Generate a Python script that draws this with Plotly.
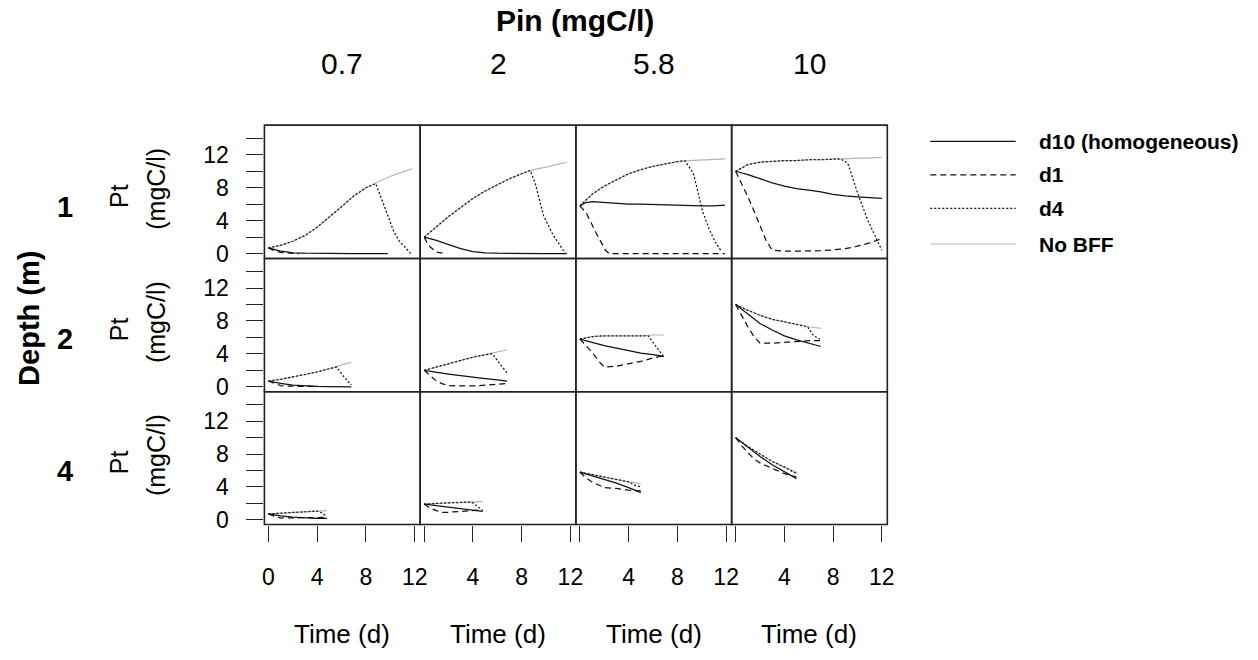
import plotly.graph_objects as go

# ---------------- data ----------------
# panel facets
pin_labels = ["0.7", "2", "5.8", "10"]
depth_labels = ["1", "2", "4"]
series_names = ["d10 (homogeneous)", "d1", "d4", "No BFF"]
x_tick_vals = [0, 4, 8, 12]
y_tick_vals = [0, 2, 4, 6, 8, 10, 12, 14]
y_tick_text = ["0", "", "4", "", "8", "", "12", ""]

# ---- Depth 1 m ----
t_z1_p07_nobff = [0, 1, 2, 3, 4, 5, 6, 7, 8, 9, 10, 11, 11.8]
P_z1_p07_nobff = [0.7, 1.0, 1.5, 2.2, 3.2, 4.4, 5.7, 7.0, 8.0, 8.7, 9.4, 9.9, 10.3]
t_z1_p07_d4 = [0, 1, 2, 3, 4, 5, 6, 7, 8, 8.8, 9.1, 9.5, 9.9, 10.3, 10.8, 11.3, 11.7]
P_z1_p07_d4 = [0.7, 1.0, 1.5, 2.2, 3.2, 4.4, 5.7, 7.0, 8.0, 8.5, 7.4, 5.8, 4.2, 2.6, 1.4, 0.6, 0.0]
t_z1_p07_d10 = [0, 0.5, 1, 1.5, 2, 3, 4, 5, 6, 7, 8, 9, 9.8]
P_z1_p07_d10 = [0.7, 0.5, 0.3, 0.2, 0.1, 0.05, 0.02, 0.01, 0, 0, 0, 0, 0]
t_z1_p07_d1 = [0, 0.5, 1, 1.5, 2, 2.5]
P_z1_p07_d1 = [0.7, 0.35, 0.15, 0.05, 0.02, 0.0]

t_z1_p2_nobff = [0, 1, 2, 3, 4, 5, 6, 7, 8, 9, 10, 11, 11.7]
P_z1_p2_nobff = [2.0, 3.3, 4.5, 5.6, 6.7, 7.6, 8.4, 9.1, 9.7, 10.2, 10.5, 10.8, 11.1]
t_z1_p2_d4 = [0, 1, 2, 3, 4, 5, 6, 7, 8, 8.7, 9.1, 9.8, 10.6, 11.6]
P_z1_p2_d4 = [2.0, 3.3, 4.5, 5.6, 6.7, 7.6, 8.4, 9.1, 9.7, 10.1, 8.6, 4.6, 2.2, 0.0]
t_z1_p2_d10 = [0, 0.5, 1, 2, 3, 4, 5, 6, 7, 8, 9, 10, 11, 11.7]
P_z1_p2_d10 = [2.0, 1.8, 1.6, 1.1, 0.6, 0.25, 0.1, 0.05, 0.02, 0, 0, 0, 0, 0]
t_z1_p2_d1 = [0, 0.25, 0.5, 1, 1.5]
P_z1_p2_d1 = [2.0, 1.3, 0.8, 0.2, 0.05]

t_z1_p58_nobff = [0, 1, 2, 3, 4, 5, 6, 7, 8, 9, 10, 11, 11.9]
P_z1_p58_nobff = [5.8, 7.2, 8.2, 9.0, 9.7, 10.2, 10.6, 10.9, 11.2, 11.3, 11.4, 11.5, 11.5]
t_z1_p58_d4 = [0, 1, 2, 3, 4, 5, 6, 7, 8, 8.6, 9.3, 9.7, 10.1, 10.6, 11.1, 11.6]
P_z1_p58_d4 = [5.8, 7.2, 8.2, 9.0, 9.7, 10.2, 10.6, 10.9, 11.2, 11.3, 9.8, 7.4, 5.0, 3.0, 1.4, 0.3]
t_z1_p58_d10 = [0, 0.5, 1, 2, 3, 4, 5, 6, 7, 8, 9, 10, 11, 11.9]
P_z1_p58_d10 = [5.8, 6.2, 6.3, 6.2, 6.1, 6.0, 6.0, 5.95, 5.9, 5.9, 5.85, 5.8, 5.8, 5.9]
t_z1_p58_d1 = [0, 0.5, 1.3, 2.1, 2.4, 4, 6, 8, 10, 11.9]
P_z1_p58_d1 = [5.8, 5.0, 2.6, 0.4, 0.0, 0, 0, 0, 0, 0]

t_z1_p10_nobff = [0, 1, 2, 3, 4, 5, 6, 7, 8, 9, 10, 11, 12]
P_z1_p10_nobff = [10.0, 10.8, 11.1, 11.2, 11.3, 11.3, 11.4, 11.4, 11.5, 11.5, 11.6, 11.6, 11.7]
t_z1_p10_d4 = [0, 1, 2, 3, 4, 5, 6, 7, 8, 8.6, 9.2, 10.0, 10.8, 12.0]
P_z1_p10_d4 = [10.0, 10.8, 11.1, 11.2, 11.3, 11.3, 11.4, 11.4, 11.5, 11.5, 11.0, 7.4, 4.2, 0.4]
t_z1_p10_d10 = [0, 1, 2, 3, 4, 5, 6, 7, 8, 9, 10, 11, 12]
P_z1_p10_d10 = [10.0, 9.6, 9.1, 8.6, 8.2, 7.9, 7.7, 7.5, 7.2, 7.0, 6.9, 6.8, 6.7]
t_z1_p10_d1 = [0, 0.5, 1, 1.5, 2, 2.5, 3, 4, 5, 6, 7, 8, 9, 10, 11, 12]
P_z1_p10_d1 = [10.0, 8.5, 6.9, 5.2, 3.4, 1.6, 0.4, 0.3, 0.3, 0.3, 0.35, 0.45, 0.6, 0.9, 1.3, 1.8]

# ---- Depth 2 m ----
t_z2_p07_nobff = [0, 1, 2, 3, 4, 5, 6, 6.8]
P_z2_p07_nobff = [0.7, 0.9, 1.2, 1.5, 1.8, 2.2, 2.6, 3.0]
t_z2_p07_d4 = [0, 1, 2, 3, 4, 5, 5.6, 6.2, 6.8]
P_z2_p07_d4 = [0.7, 0.9, 1.2, 1.5, 1.8, 2.2, 2.4, 1.2, 0.2]
t_z2_p07_d10 = [0, 1, 2, 3, 4, 5, 6, 6.8]
P_z2_p07_d10 = [0.7, 0.4, 0.2, 0.1, 0.05, 0.02, 0.01, 0.0]
t_z2_p07_d1 = [0, 0.5, 1, 1.5, 2, 3, 4.1]
P_z2_p07_d1 = [0.7, 0.4, 0.15, 0.08, 0.05, 0.05, 0.05]

t_z2_p2_nobff = [0, 1, 2, 3, 4, 5, 6, 6.8]
P_z2_p2_nobff = [2.0, 2.4, 2.8, 3.2, 3.6, 3.9, 4.2, 4.5]
t_z2_p2_d4 = [0, 1, 2, 3, 4, 5, 5.6, 6.2, 6.8]
P_z2_p2_d4 = [2.0, 2.4, 2.8, 3.2, 3.6, 3.9, 4.0, 2.8, 1.7]
t_z2_p2_d10 = [0, 0.8, 2, 3, 4, 5, 6, 6.8]
P_z2_p2_d10 = [2.0, 1.8, 1.55, 1.35, 1.15, 1.0, 0.85, 0.7]
t_z2_p2_d1 = [0, 0.5, 1, 1.5, 2, 3, 4, 5, 6, 6.8]
P_z2_p2_d1 = [2.0, 1.3, 0.7, 0.35, 0.15, 0.1, 0.1, 0.2, 0.3, 0.4]

t_z2_p58_nobff = [0, 1, 2, 3, 4, 5, 6, 6.9]
P_z2_p58_nobff = [5.8, 6.1, 6.2, 6.2, 6.2, 6.2, 6.3, 6.3]
t_z2_p58_d4 = [0, 1, 2, 3, 4, 5, 5.6, 6.3, 6.9]
P_z2_p58_d4 = [5.8, 6.1, 6.2, 6.2, 6.2, 6.2, 6.2, 4.8, 3.6]
t_z2_p58_d10 = [0, 1, 2, 3, 4, 5, 6, 6.9]
P_z2_p58_d10 = [5.8, 5.4, 5.0, 4.7, 4.4, 4.1, 3.9, 3.7]
t_z2_p58_d1 = [0, 0.5, 1, 1.5, 2, 3, 4, 5, 6, 6.9]
P_z2_p58_d1 = [5.8, 5.0, 4.2, 3.2, 2.4, 2.5, 2.8, 3.1, 3.5, 3.8]

t_z2_p10_nobff = [0, 1, 2, 3, 4, 5, 6, 7]
P_z2_p10_nobff = [10.0, 9.3, 8.7, 8.2, 7.9, 7.6, 7.3, 7.1]
t_z2_p10_d4 = [0, 1, 2, 3, 4, 5, 5.9, 6.4, 6.9]
P_z2_p10_d4 = [10.0, 9.3, 8.7, 8.2, 7.9, 7.6, 7.3, 6.2, 5.8]
t_z2_p10_d10 = [0, 1, 2, 3, 4, 5, 6, 7]
P_z2_p10_d10 = [10.0, 8.8, 7.7, 6.9, 6.2, 5.7, 5.3, 4.9]
t_z2_p10_d1 = [0, 0.5, 1, 1.5, 2, 3, 4, 5, 6, 7]
P_z2_p10_d1 = [10.0, 8.6, 7.3, 6.1, 5.3, 5.3, 5.4, 5.5, 5.6, 5.6]

# ---- Depth 4 m ----
t_z4_p07_nobff = [0, 1, 2, 3, 4, 4.8]
P_z4_p07_nobff = [0.7, 0.8, 0.9, 1.0, 1.05, 1.1]
t_z4_p07_d4 = [0, 1, 2, 3, 4, 4.4, 4.8]
P_z4_p07_d4 = [0.7, 0.8, 0.9, 1.0, 1.05, 0.8, 0.4]
t_z4_p07_d10 = [0, 1, 2, 3, 4, 4.8]
P_z4_p07_d10 = [0.7, 0.45, 0.3, 0.2, 0.15, 0.15]
t_z4_p07_d1 = [0, 0.5, 1, 2, 3, 4, 4.8]
P_z4_p07_d1 = [0.7, 0.4, 0.2, 0.2, 0.2, 0.25, 0.3]

t_z4_p2_nobff = [0, 1, 2, 3, 4, 4.8]
P_z4_p2_nobff = [1.9, 2.0, 2.05, 2.1, 2.15, 2.2]
t_z4_p2_d4 = [0, 1, 2, 3, 3.9, 4.4, 4.8]
P_z4_p2_d4 = [1.9, 2.0, 2.05, 2.1, 2.15, 1.6, 1.1]
t_z4_p2_d10 = [0, 1, 2, 3, 4, 4.8]
P_z4_p2_d10 = [1.9, 1.7, 1.5, 1.3, 1.15, 1.0]
t_z4_p2_d1 = [0, 0.5, 1, 1.5, 2, 3, 4, 4.8]
P_z4_p2_d1 = [1.9, 1.4, 1.1, 0.9, 0.9, 1.0, 1.1, 1.2]

t_z4_p58_nobff = [0, 1, 2, 3, 4, 5]
P_z4_p58_nobff = [5.8, 5.5, 5.2, 4.9, 4.6, 4.4]
t_z4_p58_d4 = [0, 1, 2, 3, 4, 4.5, 5]
P_z4_p58_d4 = [5.8, 5.5, 5.2, 4.9, 4.6, 4.2, 4.0]
t_z4_p58_d10 = [0, 1, 2, 3, 4, 5]
P_z4_p58_d10 = [5.8, 5.35, 4.9, 4.45, 3.9, 3.3]
t_z4_p58_d1 = [0, 0.5, 1, 1.5, 2, 3, 4, 5]
P_z4_p58_d1 = [5.8, 5.1, 4.6, 4.2, 3.9, 3.8, 3.6, 3.5]

t_z4_p10_nobff = [0, 1, 2, 3, 4, 5.1]
P_z4_p10_nobff = [10.0, 8.9, 8.0, 7.1, 6.4, 5.7]
t_z4_p10_d4 = [0, 1, 2, 3, 4, 4.5, 5]
P_z4_p10_d4 = [10.0, 8.9, 8.0, 7.1, 6.4, 6.0, 5.6]
t_z4_p10_d10 = [0, 1, 2, 3, 4, 5]
P_z4_p10_d10 = [10.0, 8.8, 7.7, 6.7, 5.8, 5.0]
t_z4_p10_d1 = [0, 0.5, 1, 1.5, 2, 3, 4, 5]
P_z4_p10_d1 = [10.0, 9.0, 8.2, 7.4, 6.9, 6.2, 5.6, 5.2]

# ---------------- assemble ----------------
g = globals()
depth_keys = ["z1", "z2", "z4"]
pin_keys = ["p07", "p2", "p58", "p10"]
series_keys = ["nobff", "d4", "d1", "d10"]  # drawing order (grey underneath)

styles = {
    "d10": dict(color="#111111", width=1.25, dash="solid"),
    "d1": dict(color="#111111", width=1.25, dash="6px,4px"),
    "d4": dict(color="#111111", width=1.25, dash="2px,2px"),
    "nobff": dict(color="#b4b4b4", width=1.2, dash="solid"),
}
legend_order = ["d10", "d1", "d4", "nobff"]

W, H = 1258, 660
FONT = "Liberation Sans, Arial, sans-serif"


def fx(x):
    return x / W


def fy(y):
    return 1 - y / H


col_edges = [264.3, 421.2, 578.0, 734.9, 891.7]
row_edges = [126.7, 261.7, 396.5, 531.0]
x_range = [-0.33, 12.45]
y_range = [-0.6, 15.6]

fig = go.Figure()
layout = {}
shapes = []
for r in range(3):
    for c in range(4):
        k = r * 4 + c + 1
        xs = "" if k == 1 else str(k)
        xname, yname = "xaxis" + xs, "yaxis" + xs
        layout[xname] = dict(
            domain=[fx(col_edges[c]), fx(col_edges[c + 1])],
            range=x_range, anchor="y" + xs,
            showline=False, showgrid=False, zeroline=False, fixedrange=True,
            ticks="outside" if r == 2 else "", ticklen=16, tickwidth=1.3,
            tickcolor="#222222",
            tickvals=x_tick_vals,
            ticktext=[("0" if (c == 0) else "")] + [str(v) for v in x_tick_vals[1:]],
            showticklabels=(r == 2), ticklabelstandoff=16,
            tickfont=dict(family=FONT, size=23, color="#000000"),
        )
        layout[yname] = dict(
            domain=[fy(row_edges[r + 1]), fy(row_edges[r])],
            range=y_range, anchor="x" + xs,
            showline=False, showgrid=False, zeroline=False, fixedrange=True,
            ticks="outside" if c == 0 else "", ticklen=17, tickwidth=1.3,
            tickcolor="#222222",
            tickvals=y_tick_vals, ticktext=y_tick_text,
            showticklabels=(c == 0), ticklabelstandoff=13,
            tickfont=dict(family=FONT, size=23, color="#000000"),
        )
        # panel border
        shapes.append(dict(type="rect", xref="paper", yref="paper",
                           x0=fx(col_edges[c]), x1=fx(col_edges[c + 1]),
                           y0=fy(row_edges[r + 1]), y1=fy(row_edges[r]),
                           line=dict(color="#222222", width=1.6), layer="above"))
        for s in series_keys:
            tx = g[f"t_{depth_keys[r]}_{pin_keys[c]}_{s}"]
            py = g[f"P_{depth_keys[r]}_{pin_keys[c]}_{s}"]
            fig.add_trace(go.Scatter(
                x=tx, y=py, mode="lines", line=styles[s],
                xaxis="x" + xs, yaxis="y" + xs, showlegend=False,
                name=series_names[legend_order.index(s)], hoverinfo="skip",
            ))

annotations = []
# top titles
annotations.append(dict(text="<b>Pin (mgC/l)</b>", x=fx(577), y=fy(21), font=dict(size=30)))
for c, lab in enumerate(pin_labels):
    annotations.append(dict(text=lab, x=fx((col_edges[c] + col_edges[c + 1]) / 2), y=fy(64),
                            font=dict(size=30)))
    annotations.append(dict(text="Time (d)", x=fx((col_edges[c] + col_edges[c + 1]) / 2), y=fy(642),
                            font=dict(size=26)))
# left titles
annotations.append(dict(text="<b>Depth (m)</b>", x=fx(27), y=fy(322), textangle=-90,
                        font=dict(size=29)))
row_label_y = [210, 343, 477]
for r, lab in enumerate(depth_labels):
    annotations.append(dict(text=f"<b>{lab}</b>", x=fx(63), y=fy(row_label_y[r]), font=dict(size=29)))
    rc = (row_edges[r] + row_edges[r + 1]) / 2
    annotations.append(dict(text="Pt", x=fx(118), y=fy(rc + 4), textangle=-90, font=dict(size=25)))
    annotations.append(dict(text="(mgC/l)", x=fx(155), y=fy(rc - 3), textangle=-90, font=dict(size=25)))

# legend (drawn manually, R style)
leg_y = [143, 177, 211, 247]
for i, s in enumerate(legend_order):
    st = styles[s]
    shapes.append(dict(type="line", xref="paper", yref="paper",
                       x0=fx(935), x1=fx(1021), y0=fy(leg_y[i]), y1=fy(leg_y[i]),
                       line=dict(color=st["color"] if s != "nobff" else "#b4b4b4",
                                 width=st["width"], dash=st["dash"])))
    annotations.append(dict(text=f"<b>{series_names[i]}</b>", x=fx(1042), y=fy(leg_y[i]),
                            xanchor="left", font=dict(size=21)))

for a in annotations:
    a.setdefault("xref", "paper")
    a.setdefault("yref", "paper")
    a.setdefault("showarrow", False)
    a.setdefault("xanchor", "center")
    a.setdefault("yanchor", "middle")
    a["font"] = dict(family=FONT, color="#000000", **a["font"])

fig.update_layout(
    width=W, height=H,
    margin=dict(l=0, r=0, t=0, b=0),
    paper_bgcolor="white", plot_bgcolor="white",
    showlegend=False,
    annotations=annotations, shapes=shapes,
    **layout,
)

fig.write_html(
    "out.html",
    post_script=("document.documentElement.style.margin='0';"
                 "document.documentElement.style.overflow='hidden';"
                 "document.body.style.margin='0';"
                 "document.body.style.padding='0';"
                 "document.body.style.overflow='hidden';"),
    config={"displayModeBar": False},
)
